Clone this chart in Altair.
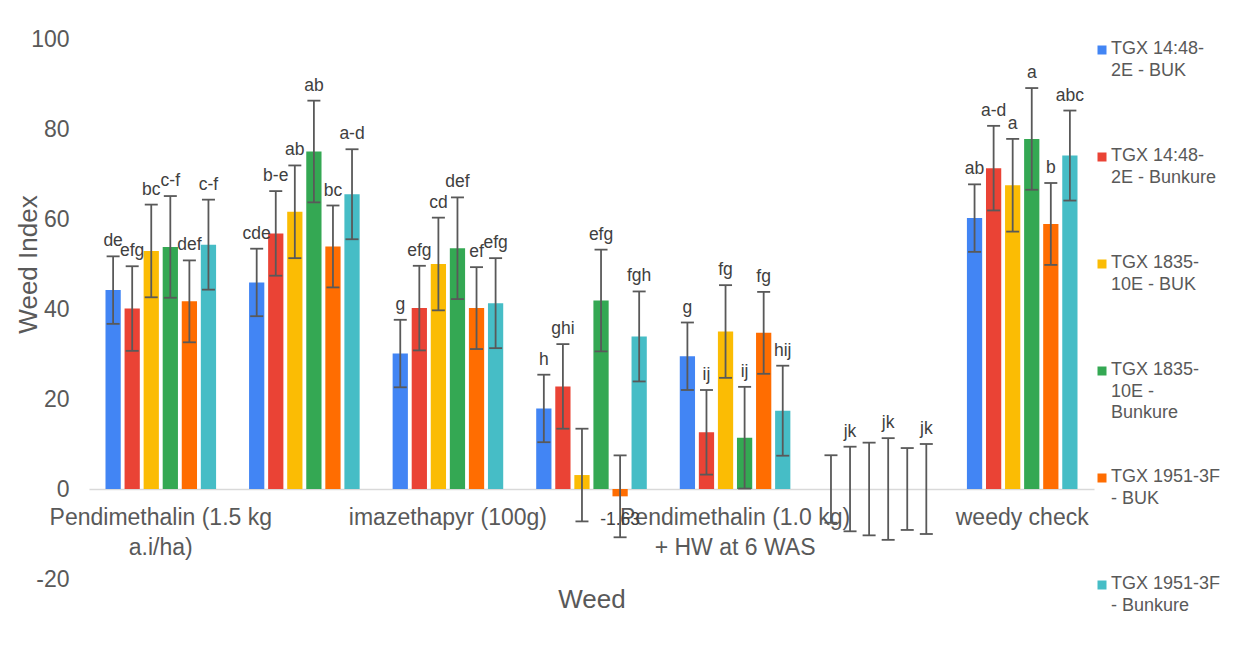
import altair as alt
import pandas as pd

# ---------------- data ----------------
groups = [
    "Pendimethalin (1.5 kg a.i/ha)",
    "Treatment 2",
    "imazethapyr (100g)",
    "Treatment 4",
    "Pendimethalin (1.0 kg) + HW at 6 WAS",
    "Treatment 6",
    "weedy check",
]
# text shown on the axis for each group (Excel skipped every other label)
group_label_lines = [
    ["Pendimethalin (1.5 kg", "a.i/ha)"],
    [],
    ["imazethapyr (100g)"],
    [],
    ["Pendimethalin (1.0 kg)", "+ HW at 6 WAS"],
    [],
    ["weedy check"],
]

series = [
    "TGX 14:48-2E - BUK",
    "TGX 14:48-2E - Bunkure",
    "TGX 1835-10E - BUK",
    "TGX 1835-10E - Bunkure",
    "TGX 1951-3F - BUK",
    "TGX 1951-3F - Bunkure",
]
legend_lines = [
    ["TGX 14:48-", "2E - BUK"],
    ["TGX 14:48-", "2E - Bunkure"],
    ["TGX 1835-", "10E - BUK"],
    ["TGX 1835-", "10E -", "Bunkure"],
    ["TGX 1951-3F", "- BUK"],
    ["TGX 1951-3F", "- Bunkure"],
]
colors = ["#4285F4", "#EA4335", "#FBBC04", "#34A853", "#FF6D01", "#46BDC6"]

y_ticks = [-20, 0, 20, 40, 60, 80, 100]

vals_blue = [44.2, 45.9, 30.1, 17.9, 29.5, 0.0, 60.2]
vals_red = [40.1, 56.8, 40.2, 22.8, 12.6, 0.0, 71.3]
vals_yellow = [52.9, 61.6, 50.0, 3.1, 35.0, 0.0, 67.5]
vals_green = [53.8, 75.0, 53.5, 41.9, 11.4, 0.0, 77.8]
vals_orange = [41.7, 53.9, 40.2, -1.63, 34.7, 0.0, 58.9]
vals_cyan = [54.3, 65.5, 41.3, 33.9, 17.4, 0.0, 74.1]

err_blue = [7.5, 7.5, 7.5, 7.5, 7.5, 7.5, 7.5]
err_red = [9.4, 9.4, 9.4, 9.4, 9.4, 9.4, 9.4]
err_yellow = [10.3, 10.3, 10.3, 10.3, 10.3, 10.3, 10.3]
err_green = [11.3, 11.3, 11.3, 11.3, 11.3, 11.3, 11.3]
err_orange = [9.1, 9.1, 9.1, 9.1, 9.1, 9.1, 9.1]
err_cyan = [10.0, 10.0, 10.0, 10.0, 10.0, 10.0, 10.0]

lab_blue = ["de", "cde", "g", "h", "g", "", "ab"]
lab_red = ["efg", "b-e", "efg", "ghi", "ij", "jk", "a-d"]
lab_yellow = ["bc", "ab", "cd", "", "fg", "", "a"]
lab_green = ["c-f", "ab", "def", "efg", "ij", "jk", "a"]
lab_orange = ["def", "bc", "ef", "-1.63", "fg", "", "b"]
lab_cyan = ["c-f", "a-d", "efg", "fgh", "hij", "jk", "abc"]

all_vals = [vals_blue, vals_red, vals_yellow, vals_green, vals_orange, vals_cyan]
all_errs = [err_blue, err_red, err_yellow, err_green, err_orange, err_cyan]
all_labs = [lab_blue, lab_red, lab_yellow, lab_green, lab_orange, lab_cyan]

rows = []
for s, vs, es, ls in zip(series, all_vals, all_errs, all_labs):
    for g, v, e, l in zip(groups, vs, es, ls):
        rows.append({"group": g, "series": s, "value": v, "low": v - e, "high": v + e, "label": l})
df = pd.DataFrame(rows)

leg_df = pd.DataFrame({"series": series, "text": ["\n".join(l) for l in legend_lines]})

# ---------------- styling ----------------
FONT = "Liberation Sans"
GREY = "#595959"

parts = []
for g, lines in zip(groups, group_label_lines):
    arr = "[" + ",".join("'" + t + "'" for t in lines) + "]" if lines else "''"
    parts.append(f"datum.value == '{g}' ? {arr} : ")
label_expr = "".join(parts) + "''"

x_enc = alt.X(
    "group:N",
    sort=groups,
    scale=alt.Scale(paddingInner=0, paddingOuter=0),
    axis=alt.Axis(
        title="Weed",
        labelExpr=label_expr,
        labelAngle=0,
        ticks=False,
        offset=-90,
        domainColor="#D9D9D9",
        domainWidth=1.5,
        labelPadding=17,
        labelLineHeight=30,
        labelFontSize=23,
        labelLimit=400,
        titleY=110,
        titleBaseline="middle",
        titleFontSize=26,
    ),
)
xo_enc = alt.XOffset("series:N", sort=series, scale=alt.Scale(paddingInner=0.2, paddingOuter=0.865))
y_scale = alt.Scale(domain=[-20, 100], nice=False, zero=False)
y_axis = alt.Axis(
    title="Weed Index",
    values=y_ticks,
    labelExpr="'' + datum.value",
    grid=False,
    domain=False,
    ticks=False,
    labelPadding=20,
    labelFontSize=23,
    titleX=-60.6,
    titleY=225,
    titleAngle=270,
    titleAlign="center",
    titleBaseline="middle",
    titleFontSize=26,
)
color_scale = alt.Scale(domain=series, range=colors)

base = alt.Chart(df)

bars = base.mark_bar().encode(
    x=x_enc,
    xOffset=xo_enc,
    y=alt.Y("value:Q", scale=y_scale, axis=y_axis),
    color=alt.Color("series:N", scale=color_scale, legend=None),
)
err_rule = base.mark_rule(color=GREY, strokeWidth=1.8).encode(
    x=x_enc,
    xOffset=xo_enc,
    y=alt.Y("low:Q", scale=y_scale, axis=y_axis),
    y2="high:Q",
)
cap_low = base.mark_tick(color=GREY, thickness=1.8, size=13, opacity=1).encode(
    x=x_enc, xOffset=xo_enc, y=alt.Y("low:Q", scale=y_scale, axis=y_axis)
)
cap_high = base.mark_tick(color=GREY, thickness=1.8, size=13, opacity=1).encode(
    x=x_enc, xOffset=xo_enc, y=alt.Y("high:Q", scale=y_scale, axis=y_axis)
)
lab_pos = base.transform_filter("datum.value >= 0 && datum.label != ''").mark_text(
    baseline="bottom", dy=-6, fontSize=17.5, color="#404040", font=FONT
).encode(
    x=x_enc, xOffset=xo_enc, y=alt.Y("high:Q", scale=y_scale, axis=y_axis), text="label:N"
)
lab_neg = base.transform_filter("datum.value < 0 && datum.label != ''").mark_text(
    baseline="top", dy=15, fontSize=17.5, color="#404040", font=FONT
).encode(
    x=x_enc, xOffset=xo_enc, y=alt.Y("value:Q", scale=y_scale, axis=y_axis), text="label:N"
)

main = alt.layer(bars, err_rule, cap_low, cap_high, lab_pos, lab_neg).properties(width=1005, height=540)

leg_y = alt.Y(
    "series:N", sort=series, axis=None,
    scale=alt.Scale(type="point", range=[11, 546], padding=0),
)
leg_sq = alt.Chart(leg_df).mark_square(size=81, opacity=1).encode(
    x=alt.value(8), y=leg_y, color=alt.Color("series:N", scale=color_scale, legend=None)
)
leg_tx = alt.Chart(leg_df).mark_text(
    align="left", baseline="top", dy=-10, lineBreak="\n", fontSize=18, lineHeight=21.6, color=GREY, font=FONT
).encode(x=alt.value(17), y=leg_y, text="text:N")
legend = alt.layer(leg_sq, leg_tx).properties(width=125, height=540)

chart = (
    alt.hconcat(main, legend, spacing=0, bounds="flush", padding={"left": 7, "top": 20, "right": 5, "bottom": 5})
    .configure(font=FONT, background="white")
    .configure_view(strokeWidth=0)
    .configure_axis(labelColor=GREY, titleColor=GREY, titleFontWeight="normal", labelFont=FONT, titleFont=FONT)
)

chart.save("out.html", embed_options={"renderer": "svg", "actions": False})
